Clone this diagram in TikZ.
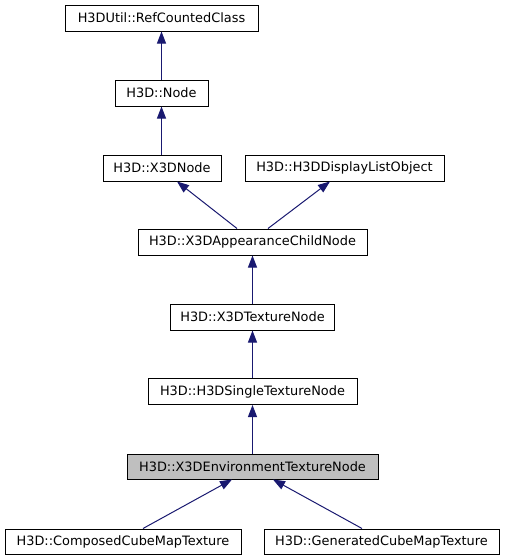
\documentclass[tikz,border=0pt]{standalone}
\usepackage{fontspec}
\setmainfont{DejaVu Sans}
\usetikzlibrary{arrows.meta}
\definecolor{edgeblue}{HTML}{191970}
\definecolor{hlgray}{HTML}{BFBFBF}
\begin{document}
\begin{tikzpicture}[x=1pt,y=-1pt,
  cls/.style={draw=black, fill=white, line width=1pt, inner sep=0pt,
    minimum height=26pt, font=\fontsize{12.9}{15}\selectfont},
  hl/.style={cls, fill=hlgray},
  inh/.style={draw=edgeblue, line width=1pt, -{Triangle[length=12pt,width=9pt]}}]
\useasboundingbox (0,0) rectangle (505,560);
\node[cls, minimum width=193pt] (rc) at (161.5,18) {H3DUtil::RefCountedClass};
\node[cls, minimum width=93pt] (nd) at (161.5,93) {H3D::Node};
\node[cls, minimum width=118pt] (x3d) at (162,168) {H3D::X3DNode};
\node[cls, minimum width=199pt] (dlo) at (344.5,168) {H3D::H3DDisplayListObject};
\node[cls, minimum width=229pt] (acn) at (252.5,242) {H3D::X3DAppearanceChildNode};
\node[cls, minimum width=164pt] (tex) at (252.5,317) {H3D::X3DTextureNode};
\node[cls, minimum width=209pt] (single) at (252.5,391.5) {H3D::H3DSingleTextureNode};
\node[hl, minimum width=251pt, minimum height=25pt] (env) at (252.5,466.5) {H3D::X3DEnvironmentTextureNode};
\node[cls, minimum width=236pt, minimum height=25pt] (comp) at (123,541.5) {H3D::ComposedCubeMapTexture};
\node[cls, minimum width=235pt, minimum height=25pt] (gen) at (381.5,541.5) {H3D::GeneratedCubeMapTexture};
\draw[inh] (nd.north) -- (rc.south);
\draw[inh] (x3d.north -| nd.north) -- (nd.south);
\draw[inh] ([xshift=-15.5pt]acn.north) -- ([xshift=15pt]x3d.south);
\draw[inh] ([xshift=15.5pt]acn.north) -- ([xshift=-14.5pt]dlo.south);
\draw[inh] (tex.north) -- (acn.south);
\draw[inh] (single.north) -- (tex.south);
\draw[inh] (env.north) -- (single.south);
\draw[inh] ([xshift=20pt]comp.north) -- ([xshift=-20.5pt]env.south);
\draw[inh] ([xshift=-19.5pt]gen.north) -- ([xshift=20.5pt]env.south);
\end{tikzpicture}
\end{document}
